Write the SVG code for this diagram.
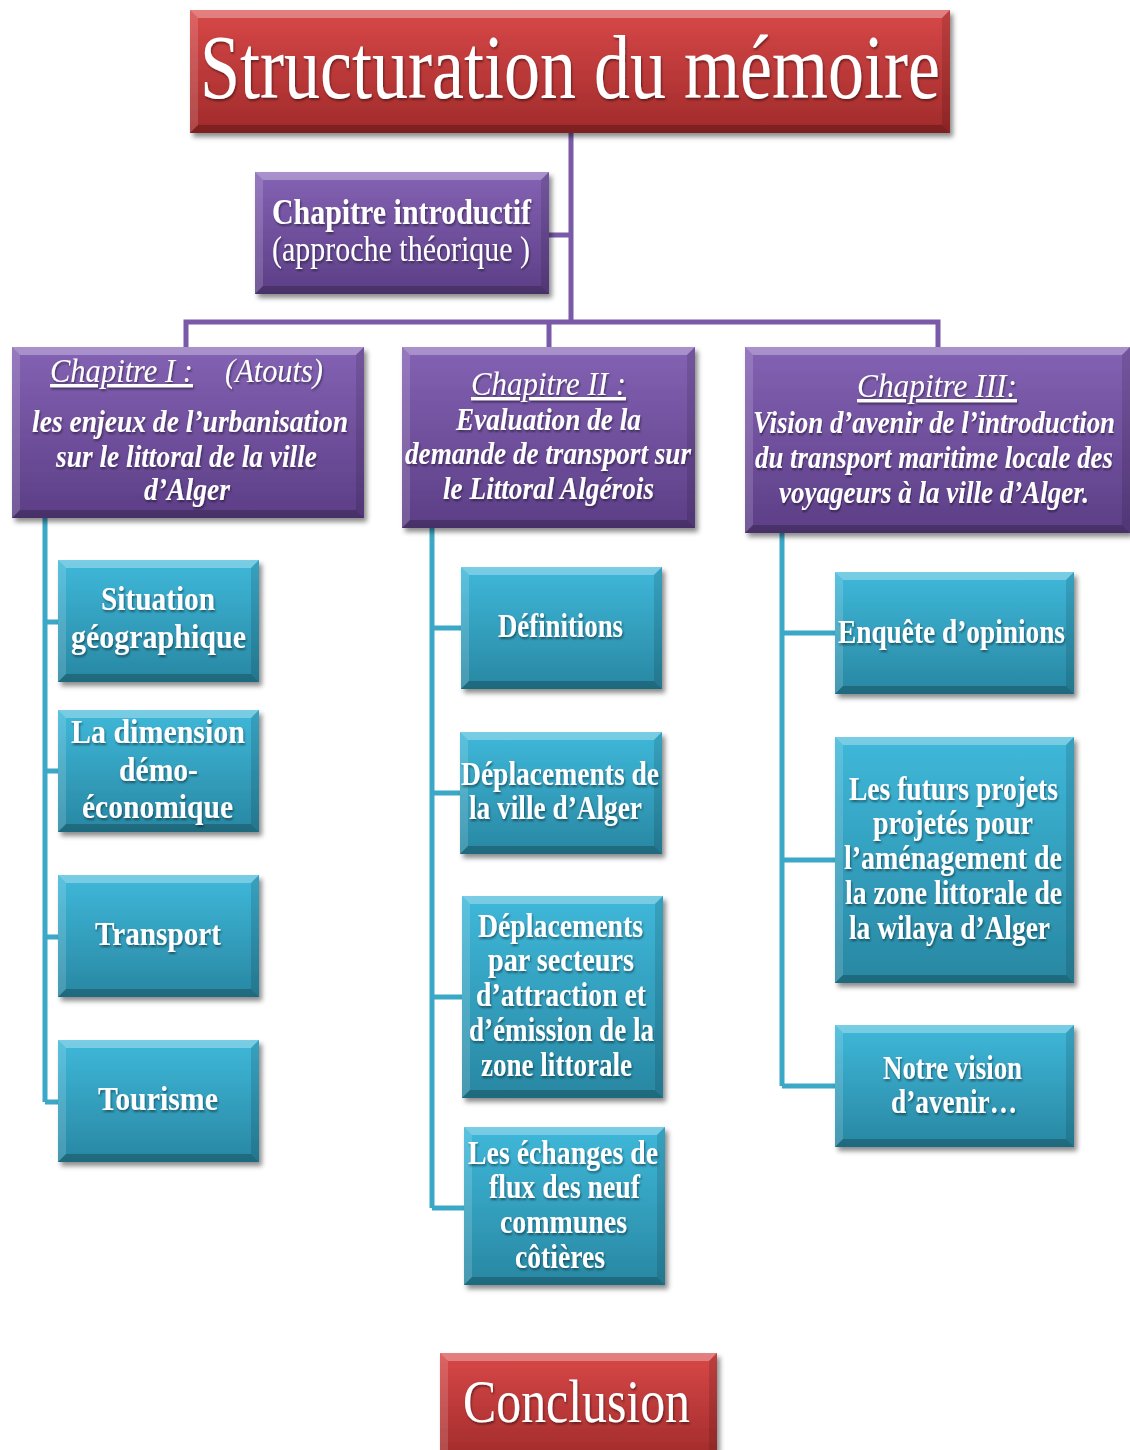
<svg xmlns="http://www.w3.org/2000/svg" width="1130" height="1450" viewBox="0 0 1130 1450">
<defs>
<linearGradient id="gRed" x1="0" y1="0" x2="0" y2="1"><stop offset="0" stop-color="#d84848"/><stop offset="1" stop-color="#a02a2a"/></linearGradient>
<linearGradient id="gPur" x1="0" y1="0" x2="0" y2="1"><stop offset="0" stop-color="#8462b4"/><stop offset="1" stop-color="#5c3e86"/></linearGradient>
<linearGradient id="gTeal" x1="0" y1="0" x2="0" y2="1"><stop offset="0" stop-color="#3fb8da"/><stop offset="1" stop-color="#2887a2"/></linearGradient>
<filter id="shadow" x="-10%" y="-10%" width="125%" height="130%"><feDropShadow dx="3" dy="4" stdDeviation="2.5" flood-color="#000" flood-opacity="0.45"/></filter>
<filter id="tsh" x="-5%" y="-20%" width="110%" height="150%"><feDropShadow dx="1" dy="2" stdDeviation="1" flood-color="#000" flood-opacity="0.45"/></filter>
</defs>
<style>
.red{fill:url(#gRed);filter:url(#shadow)}
.pur{fill:url(#gPur);filter:url(#shadow)}
.teal{fill:url(#gTeal);filter:url(#shadow)}
.hl{fill:#fff;fill-opacity:0.3}
.hl2{fill:#fff;fill-opacity:0.15}
.sh{fill:#000;fill-opacity:0.12}
.sh2{fill:#000;fill-opacity:0.22}
text{fill:#fff;font-family:"Liberation Serif","Times New Roman",serif;filter:url(#tsh)}
.t{font-size:34px;font-weight:bold}
.ci{font-size:33px;font-style:italic}
.cb{font-size:32px;font-style:italic;font-weight:bold}
.u{text-decoration:underline}
.pc{fill:none;stroke:#7a5aa8;stroke-width:5}
.tc{fill:none;stroke:#3aa8c6;stroke-width:5}
</style>

<g id="connectors">
<path class="pc" d="M571,133 V322 M549,235 H571 M186,347 V322 H938 V347 M549,322 V347"/>
<path class="tc" d="M45,518 V1102 M45,622 H58 M45,771 H58 M45,937 H58 M45,1102 H58"/>
<path class="tc" d="M432,528 V1208 M432,628 H461 M432,793 H460 M432,997 H462 M432,1208 H464"/>
<path class="tc" d="M782,533 V1086 M782,633 H835 M782,860 H835 M782,1086 H835"/>
</g>

<g id="title">
<rect class="red" x="190" y="10" width="760" height="123"/>
<path class="hl" d="M190,10 h760 l-8,8 h-744 z"/><path class="hl2" d="M190,10 l8,8 v107 l-8,8 z"/><path class="sh" d="M950,10 v123 l-8,-8 v-107 z"/><path class="sh2" d="M190,133 h760 l-8,-8 h-744 z"/>
<text x="200" y="98" font-size="90" textLength="740" lengthAdjust="spacingAndGlyphs">Structuration du mémoire</text>
</g>

<g id="intro">
<rect class="pur" x="255" y="172" width="294" height="122"/>
<path class="hl" d="M255,172 h294 l-8,8 h-278 z"/><path class="hl2" d="M255,172 l8,8 v106 l-8,8 z"/><path class="sh" d="M549,172 v122 l-8,-8 v-106 z"/><path class="sh2" d="M255,294 h294 l-8,-8 h-278 z"/>
<text x="272" y="224" font-size="35" font-weight="bold" textLength="259" lengthAdjust="spacingAndGlyphs">Chapitre introductif</text>
<text x="272" y="261" font-size="35" textLength="258" lengthAdjust="spacingAndGlyphs">(approche théorique )</text>
</g>

<g id="ch1">
<rect class="pur" x="12" y="347" width="352" height="171"/>
<path class="hl" d="M12,347 h352 l-8,8 h-336 z"/><path class="hl2" d="M12,347 l8,8 v155 l-8,8 z"/><path class="sh" d="M364,347 v171 l-8,-8 v-155 z"/><path class="sh2" d="M12,518 h352 l-8,-8 h-336 z"/>
<text class="ci u" x="50" y="382" textLength="143" lengthAdjust="spacingAndGlyphs">Chapitre I :</text>
<text class="ci" x="225" y="382" textLength="98" lengthAdjust="spacingAndGlyphs">(Atouts)</text>
<text class="cb" x="32" y="432" textLength="316" lengthAdjust="spacingAndGlyphs">les enjeux de l’urbanisation</text>
<text class="cb" x="56" y="467" textLength="261" lengthAdjust="spacingAndGlyphs">sur le littoral de la ville</text>
<text class="cb" x="144" y="500" textLength="86" lengthAdjust="spacingAndGlyphs">d’Alger</text>
</g>

<g id="ch2">
<rect class="pur" x="402" y="347" width="293" height="181"/>
<path class="hl" d="M402,347 h293 l-8,8 h-277 z"/><path class="hl2" d="M402,347 l8,8 v165 l-8,8 z"/><path class="sh" d="M695,347 v181 l-8,-8 v-165 z"/><path class="sh2" d="M402,528 h293 l-8,-8 h-277 z"/>
<text class="ci u" x="471" y="395" textLength="155" lengthAdjust="spacingAndGlyphs">Chapitre II :</text>
<text class="cb" x="456" y="430" textLength="185" lengthAdjust="spacingAndGlyphs">Evaluation de la</text>
<text class="cb" x="405" y="464" textLength="286" lengthAdjust="spacingAndGlyphs">demande de transport sur</text>
<text class="cb" x="443" y="499" textLength="211" lengthAdjust="spacingAndGlyphs">le Littoral Algérois</text>
</g>

<g id="ch3">
<rect class="pur" x="745" y="347" width="385" height="186"/>
<path class="hl" d="M745,347 h385 l-8,8 h-369 z"/><path class="hl2" d="M745,347 l8,8 v170 l-8,8 z"/><path class="sh" d="M1130,347 v186 l-8,-8 v-170 z"/><path class="sh2" d="M745,533 h385 l-8,-8 h-369 z"/>
<text class="ci u" x="857" y="397" textLength="160" lengthAdjust="spacingAndGlyphs">Chapitre III:</text>
<text class="cb" transform="translate(753,433) scale(0.75,1)" x="0" y="0" textLength="482.7" lengthAdjust="spacingAndGlyphs">Vision  d’avenir de l’introduction</text>
<text class="cb" transform="translate(755,468) scale(0.75,1)" x="0" y="0" textLength="477.3" lengthAdjust="spacingAndGlyphs">du transport maritime locale des</text>
<text class="cb" transform="translate(779,503) scale(0.75,1)" x="0" y="0" textLength="413.3" lengthAdjust="spacingAndGlyphs">voyageurs à la ville  d’Alger.</text>
</g>

<g id="situation">
<rect class="teal" x="58" y="560" width="201" height="122"/>
<path class="hl" d="M58,560 h201 l-8,8 h-185 z"/><path class="hl2" d="M58,560 l8,8 v106 l-8,8 z"/><path class="sh" d="M259,560 v122 l-8,-8 v-106 z"/><path class="sh2" d="M58,682 h201 l-8,-8 h-185 z"/>
<text class="t" x="101" y="610" textLength="114" lengthAdjust="spacingAndGlyphs">Situation</text>
<text class="t" x="71" y="648" textLength="175" lengthAdjust="spacingAndGlyphs">géographique</text>
</g>

<g id="dimension">
<rect class="teal" x="58" y="710" width="201" height="122"/>
<path class="hl" d="M58,710 h201 l-8,8 h-185 z"/><path class="hl2" d="M58,710 l8,8 v106 l-8,8 z"/><path class="sh" d="M259,710 v122 l-8,-8 v-106 z"/><path class="sh2" d="M58,832 h201 l-8,-8 h-185 z"/>
<text class="t" x="71" y="743" textLength="174" lengthAdjust="spacingAndGlyphs">La dimension</text>
<text class="t" x="119" y="781" textLength="79" lengthAdjust="spacingAndGlyphs">démo-</text>
<text class="t" x="82" y="818" textLength="151" lengthAdjust="spacingAndGlyphs">économique</text>
</g>

<g id="transport">
<rect class="teal" x="58" y="875" width="201" height="122"/>
<path class="hl" d="M58,875 h201 l-8,8 h-185 z"/><path class="hl2" d="M58,875 l8,8 v106 l-8,8 z"/><path class="sh" d="M259,875 v122 l-8,-8 v-106 z"/><path class="sh2" d="M58,997 h201 l-8,-8 h-185 z"/>
<text class="t" x="95" y="945" textLength="126" lengthAdjust="spacingAndGlyphs">Transport</text>
</g>

<g id="tourisme">
<rect class="teal" x="58" y="1040" width="201" height="122"/>
<path class="hl" d="M58,1040 h201 l-8,8 h-185 z"/><path class="hl2" d="M58,1040 l8,8 v106 l-8,8 z"/><path class="sh" d="M259,1040 v122 l-8,-8 v-106 z"/><path class="sh2" d="M58,1162 h201 l-8,-8 h-185 z"/>
<text class="t" x="98" y="1110" textLength="120" lengthAdjust="spacingAndGlyphs">Tourisme</text>
</g>

<g id="definitions">
<rect class="teal" x="461" y="567" width="201" height="122"/>
<path class="hl" d="M461,567 h201 l-8,8 h-185 z"/><path class="hl2" d="M461,567 l8,8 v106 l-8,8 z"/><path class="sh" d="M662,567 v122 l-8,-8 v-106 z"/><path class="sh2" d="M461,689 h201 l-8,-8 h-185 z"/>
<text class="t" x="498" y="637" textLength="125" lengthAdjust="spacingAndGlyphs">Définitions</text>
</g>

<g id="deplacements-ville">
<rect class="teal" x="460" y="732" width="202" height="122"/>
<path class="hl" d="M460,732 h202 l-8,8 h-186 z"/><path class="hl2" d="M460,732 l8,8 v106 l-8,8 z"/><path class="sh" d="M662,732 v122 l-8,-8 v-106 z"/><path class="sh2" d="M460,854 h202 l-8,-8 h-186 z"/>
<text class="t" x="461" y="785" textLength="198" lengthAdjust="spacingAndGlyphs">Déplacements de</text>
<text class="t" x="469" y="819" textLength="173" lengthAdjust="spacingAndGlyphs">la ville  d’Alger</text>
</g>

<g id="deplacements-secteurs">
<rect class="teal" x="462" y="896" width="201" height="202"/>
<path class="hl" d="M462,896 h201 l-8,8 h-185 z"/><path class="hl2" d="M462,896 l8,8 v186 l-8,8 z"/><path class="sh" d="M663,896 v202 l-8,-8 v-186 z"/><path class="sh2" d="M462,1098 h201 l-8,-8 h-185 z"/>
<text class="t" x="478" y="937" textLength="165" lengthAdjust="spacingAndGlyphs">Déplacements</text>
<text class="t" x="488" y="971" textLength="146" lengthAdjust="spacingAndGlyphs">par secteurs</text>
<text class="t" x="476" y="1006" textLength="170" lengthAdjust="spacingAndGlyphs">d’attraction et</text>
<text class="t" x="469" y="1041" textLength="185" lengthAdjust="spacingAndGlyphs">d’émission  de la</text>
<text class="t" x="481" y="1076" textLength="151" lengthAdjust="spacingAndGlyphs">zone littorale</text>
</g>

<g id="echanges">
<rect class="teal" x="464" y="1127" width="201" height="158"/>
<path class="hl" d="M464,1127 h201 l-8,8 h-185 z"/><path class="hl2" d="M464,1127 l8,8 v142 l-8,8 z"/><path class="sh" d="M665,1127 v158 l-8,-8 v-142 z"/><path class="sh2" d="M464,1285 h201 l-8,-8 h-185 z"/>
<text class="t" x="468" y="1164" textLength="190" lengthAdjust="spacingAndGlyphs">Les échanges de</text>
<text class="t" x="489" y="1198" textLength="151" lengthAdjust="spacingAndGlyphs">flux des neuf</text>
<text class="t" x="500" y="1233" textLength="127" lengthAdjust="spacingAndGlyphs">communes</text>
<text class="t" x="515" y="1268" textLength="90" lengthAdjust="spacingAndGlyphs">côtières</text>
</g>

<g id="enquete">
<rect class="teal" x="835" y="572" width="239" height="122"/>
<path class="hl" d="M835,572 h239 l-8,8 h-223 z"/><path class="hl2" d="M835,572 l8,8 v106 l-8,8 z"/><path class="sh" d="M1074,572 v122 l-8,-8 v-106 z"/><path class="sh2" d="M835,694 h239 l-8,-8 h-223 z"/>
<text class="t" x="838" y="643" textLength="227" lengthAdjust="spacingAndGlyphs">Enquête d’opinions</text>
</g>

<g id="futurs-projets">
<rect class="teal" x="835" y="737" width="239" height="246"/>
<path class="hl" d="M835,737 h239 l-8,8 h-223 z"/><path class="hl2" d="M835,737 l8,8 v230 l-8,8 z"/><path class="sh" d="M1074,737 v246 l-8,-8 v-230 z"/><path class="sh2" d="M835,983 h239 l-8,-8 h-223 z"/>
<text class="t" x="849" y="800" textLength="209" lengthAdjust="spacingAndGlyphs">Les futurs projets</text>
<text class="t" x="873" y="834" textLength="160" lengthAdjust="spacingAndGlyphs">projetés pour</text>
<text class="t" x="844" y="869" textLength="218" lengthAdjust="spacingAndGlyphs">l’aménagement de</text>
<text class="t" x="845" y="904" textLength="217" lengthAdjust="spacingAndGlyphs">la zone littorale de</text>
<text class="t" x="849" y="939" textLength="201" lengthAdjust="spacingAndGlyphs">la  wilaya  d’Alger</text>
</g>

<g id="notre-vision">
<rect class="teal" x="835" y="1025" width="239" height="122"/>
<path class="hl" d="M835,1025 h239 l-8,8 h-223 z"/><path class="hl2" d="M835,1025 l8,8 v106 l-8,8 z"/><path class="sh" d="M1074,1025 v122 l-8,-8 v-106 z"/><path class="sh2" d="M835,1147 h239 l-8,-8 h-223 z"/>
<text class="t" x="883" y="1079" textLength="139" lengthAdjust="spacingAndGlyphs">Notre vision</text>
<text class="t" x="891" y="1113" textLength="126" lengthAdjust="spacingAndGlyphs">d’avenir…</text>
</g>

<g id="conclusion">
<rect class="red" x="440" y="1353" width="277" height="110"/>
<path class="hl" d="M440,1353 h277 l-8,8 h-261 z"/><path class="hl2" d="M440,1353 l8,8 v94 l-8,8 z"/><path class="sh" d="M717,1353 v110 l-8,-8 v-94 z"/>
<text x="463" y="1422" font-size="61" textLength="227" lengthAdjust="spacingAndGlyphs">Conclusion</text>
</g>
</svg>
